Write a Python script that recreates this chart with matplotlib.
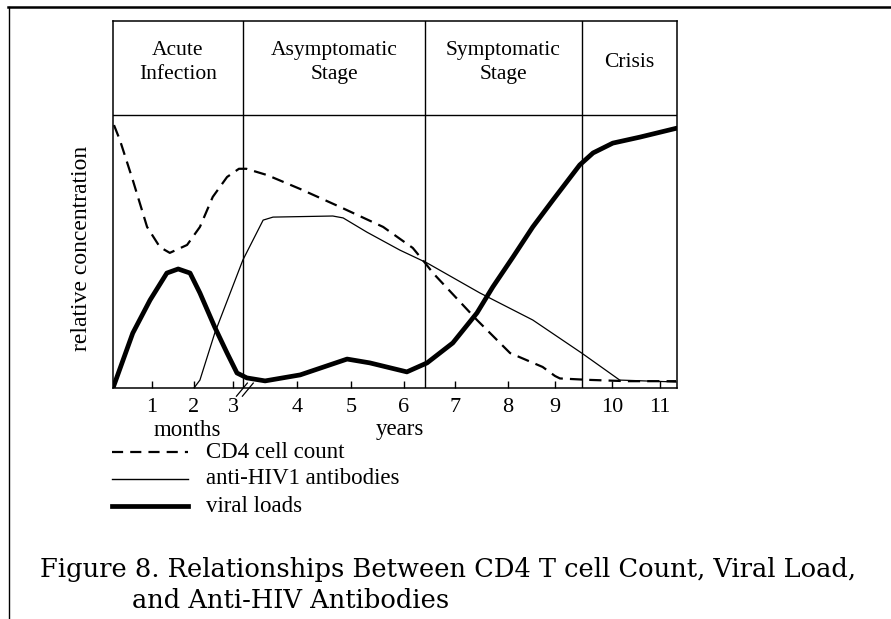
import matplotlib
matplotlib.use("Agg")
import matplotlib.pyplot as plt
from matplotlib.lines import Line2D

# ---- data (x in plot units, y relative 0..1)
stages = ["Acute\nInfection", "Asymptomatic\nStage", "Symptomatic\nStage", "Crisis"]
stage_edges = [0.0, 2.63, 6.32, 9.49, 11.42]

tick_pos = [0.79, 1.64, 2.43, 3.72, 4.82, 5.89, 6.92, 8.0, 8.95, 10.1, 11.07]
tick_lab = ["1", "2", "3", "4", "5", "6", "7", "8", "9", "10", "11"]

cd4_x = [0.02, 0.14, 0.40, 0.69, 0.95, 1.15, 1.50, 1.76, 2.02, 2.31, 2.55, 2.7, 3.12, 3.79,
         4.60, 5.47, 6.07, 6.32, 6.48, 7.37, 8.04, 8.70, 8.95, 9.05, 9.6, 10.4, 11.4]
cd4_y = [0.963, 0.908, 0.762, 0.590, 0.516, 0.495, 0.524, 0.590, 0.700, 0.773, 0.803,
         0.803, 0.780, 0.729, 0.663, 0.590, 0.513, 0.458, 0.421, 0.249, 0.128, 0.077,
         0.044, 0.035, 0.03, 0.025, 0.025]

ab_x = [1.64, 1.76, 2.06, 2.63, 3.04, 3.24, 4.45, 4.66, 5.14, 5.81, 6.36, 7.43, 8.50,
        9.49, 10.26, 11.40]
ab_y = [0.0, 0.029, 0.201, 0.469, 0.615, 0.626, 0.630, 0.623, 0.571, 0.505, 0.458,
        0.348, 0.249, 0.128, 0.029, 0.022]

vl_x = [0.0, 0.40, 0.75, 1.09, 1.32, 1.56, 1.76, 2.06, 2.31, 2.51, 2.71, 3.08, 3.79,
        4.74, 5.20, 5.95, 6.36, 6.88, 7.37, 7.69, 8.10, 8.50, 8.91, 9.45, 9.72, 10.12,
        10.67, 11.42]
vl_y = [0.0, 0.201, 0.322, 0.421, 0.436, 0.421, 0.348, 0.223, 0.128, 0.055, 0.037,
        0.026, 0.048, 0.106, 0.092, 0.059, 0.092, 0.165, 0.275, 0.370, 0.480, 0.590,
        0.689, 0.817, 0.861, 0.897, 0.919, 0.952]

legend_labels = ["CD4 cell count", "anti-HIV1 antibodies", "viral loads"]
caption = ["Figure 8. Relationships Between CD4 T cell Count, Viral Load,",
           "and Anti-HIV Antibodies"]

W, H = 891, 619
fig = plt.figure(figsize=(W / 100, H / 100), dpi=100)
serif = "Liberation Serif"

# page frame (top rule + left rule)
fig.add_artist(Line2D([8 / W, 1], [1 - 7 / H, 1 - 7 / H], color="black", lw=1.8))
fig.add_artist(Line2D([9 / W, 9 / W], [0, 1 - 7 / H], color="black", lw=1.0))

left, right, bot, top = 113, 677, 388, 21
ax = fig.add_axes([left / W, 1 - bot / H, (right - left) / W, (bot - top) / H])
ymax = (bot - top) / (bot - 115)
ax.set_xlim(0, stage_edges[-1])
ax.set_ylim(0, ymax)
for s in ax.spines.values():
    s.set_linewidth(1.1)

# stage header and dividers
ax.axhline(1.0, color="black", lw=1.0)
for e in stage_edges[1:-1]:
    ax.axvline(e, color="black", lw=1.0)
for i, name in enumerate(stages):
    ax.text((stage_edges[i] + stage_edges[i + 1]) / 2, (1 + ymax) / 2 + 0.02, name,
            ha="center", va="center", fontsize=15.5, family=serif, linespacing=1.3)

ax.plot(cd4_x, cd4_y, color="black", lw=1.6, dashes=(5.5, 3.2))
ax.plot(ab_x, ab_y, color="black", lw=0.9)
ax.plot(vl_x, vl_y, color="black", lw=3.4, solid_capstyle="round")

ax.set_xticks(tick_pos)
ax.set_xticklabels(tick_lab, family=serif, fontsize=16)
ax.tick_params(axis="x", direction="in", length=5, width=1.0, pad=7)
ax.set_yticks([])
ax.set_ylabel("relative concentration", family=serif, fontsize=17)
ax.yaxis.set_label_coords(-0.037, 0.38)

# axis break marks
for dx in (0.0, 0.12):
    ax.plot([2.5 + dx, 2.72 + dx], [-0.03, 0.018], color="black", lw=0.9, clip_on=False)

fig.text(187 / W, 1 - 430 / H, "months", ha="center", va="center", family=serif, fontsize=16.5)
fig.text(400 / W, 1 - 430 / H, "years", ha="center", va="center", family=serif, fontsize=16.5)

# legend drawn by hand like the scan
styles = [dict(lw=1.6, dashes=(5, 3.2)), dict(lw=1.0), dict(lw=3.4)]
ys = [452, 479, 506]
for lab, st, y in zip(legend_labels, styles, ys):
    fig.add_artist(Line2D([112 / W, 188 / W], [1 - y / H, 1 - y / H], color="black", **st))
    fig.text(206 / W, 1 - y / H, lab, ha="left", va="center", family=serif, fontsize=16.5)

fig.text(40 / W, 1 - 569 / H, caption[0], ha="left", va="center",
         family="DejaVu Serif", fontsize=18.5)
fig.text(132 / W, 1 - 600 / H, caption[1], ha="left", va="center",
         family="DejaVu Serif", fontsize=18.5)

fig.savefig("out.png", dpi=100)
